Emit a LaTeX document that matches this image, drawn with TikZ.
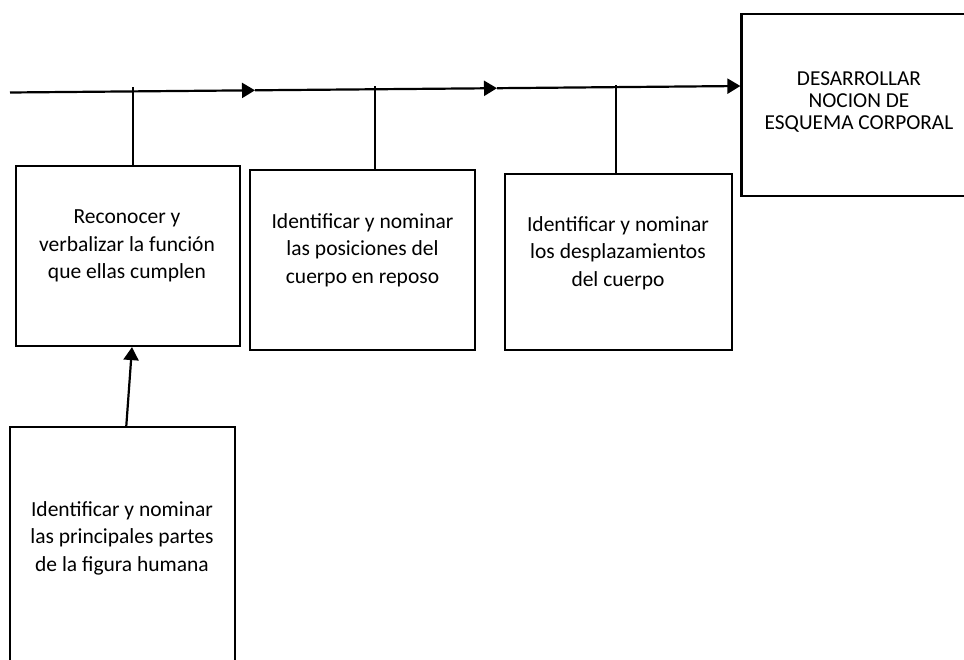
\documentclass[tikz,border=0pt]{standalone}
\usepackage{fontspec}
\setmainfont{Carlito}
\usetikzlibrary{arrows.meta}
\begin{document}
\begin{tikzpicture}[x=1pt,y=-1pt,
  box/.style={draw, line width=2.2pt, rectangle, inner sep=0pt},
  txt/.style={align=center, inner sep=0pt, font=\fontsize{21.5}{27.5}\selectfont},
  goaltxt/.style={align=center, inner sep=0pt, font=\fontsize{21.3}{22.3}\selectfont},
  link/.style={line width=2.2pt},
  flow/.style={line width=2.2pt, -{Triangle[length=13pt,width=15pt]}}]
\path[use as bounding box, clip] (0,0) rectangle (964,659);

% boxes
\node[box, minimum width=224pt, minimum height=180pt] (b1) at (128,256) {};
\node[box, minimum width=225pt, minimum height=180pt] (b2) at (362.5,260) {};
\node[box, minimum width=227pt, minimum height=176pt] (b3) at (618.5,262) {};
\node[box, minimum width=235pt, minimum height=182pt] (goal) at (859,105) {};
\node[box, minimum width=225pt, minimum height=242pt] (src) at (122.3,548) {};

% texts
\node[txt] (t1) at (127,246) {Reconocer y\\verbalizar la función\\que ellas cumplen};
\node[txt] (t2) at (362.5,250) {Identificar y nominar\\las posiciones del\\cuerpo en reposo};
\node[txt] (t3) at (618,253) {Identificar y nominar\\los desplazamientos\\del cuerpo};
\node[goaltxt] (tg) at (859,102) {DESARROLLAR\\NOCION DE\\ESQUEMA CORPORAL};
\node[txt] (ts) at (122,538) {Identificar y nominar\\las principales partes\\de la figura humana};

% main flow line
\coordinate (start) at (10,92.5);
\coordinate (m1) at (255,90.3);
\coordinate (m2) at (497,88.2);
\draw[flow] (start) -- (m1);
\draw[flow] (m1) -- (m2);
\draw[flow] (m2) -- ([yshift=19pt]goal.west);

% stubs from boxes up to the flow line
\draw[link] ([xshift=5pt]b1.north) -- ++(0,-78);
\draw[link] ([xshift=12.5pt]b2.north) -- ++(0,-83);
\draw[link] ([xshift=-2.5pt]b3.north) -- ++(0,-88);

% arrow from the lower box
\draw[flow] ([xshift=4pt]src.north) -- ([xshift=4pt]b1.south);
\end{tikzpicture}
\end{document}
